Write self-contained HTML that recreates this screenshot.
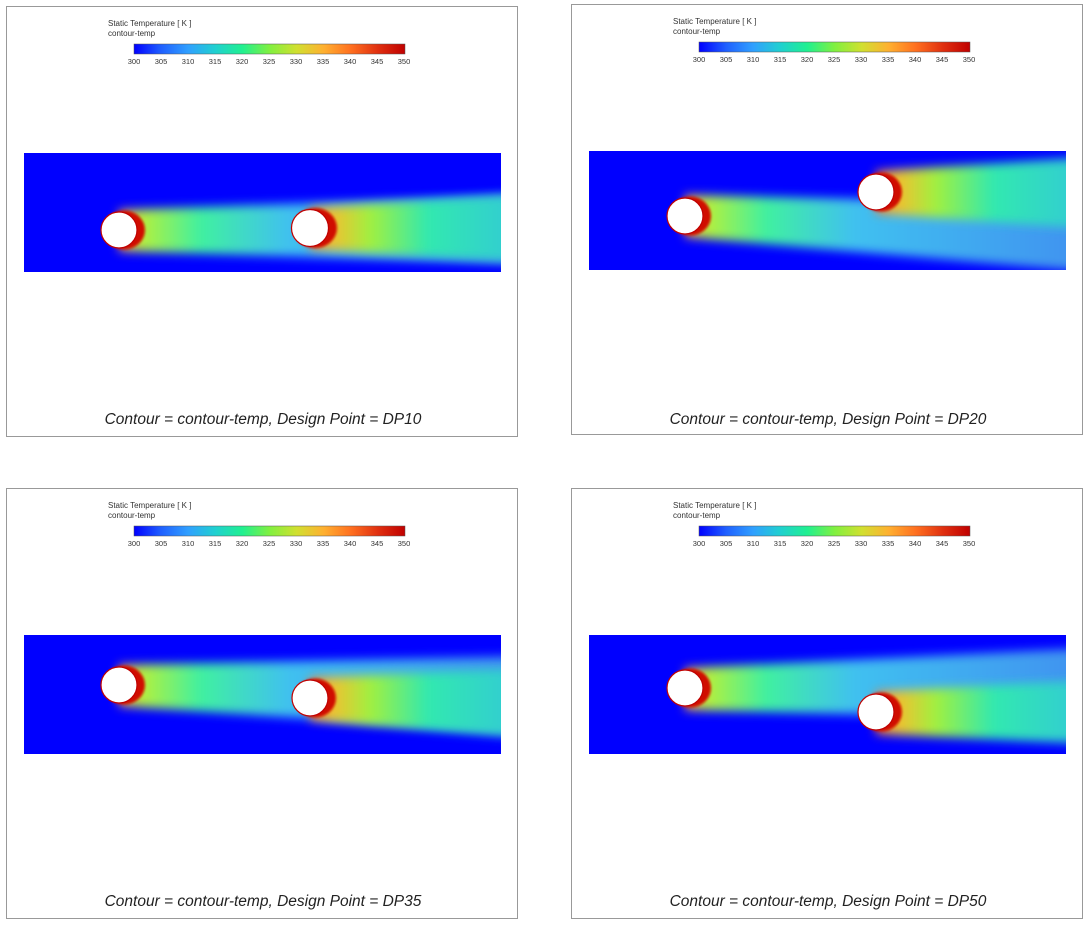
<!DOCTYPE html>
<html><head><meta charset="utf-8"><style>
html,body{margin:0;padding:0;background:#fff;width:1088px;height:928px;overflow:hidden}
svg{display:block}
text{font-family:"Liberation Sans",sans-serif}
</style></head><body>
<svg width="1088" height="928" viewBox="0 0 1088 928" xmlns="http://www.w3.org/2000/svg">
<defs>
<linearGradient id="jet" x1="0" x2="1" y1="0" y2="0">
<stop offset="0" stop-color="#0000ff"/><stop offset="0.1" stop-color="#2060ff"/><stop offset="0.2" stop-color="#30a0ff"/><stop offset="0.3" stop-color="#20d0d0"/><stop offset="0.4" stop-color="#20f090"/><stop offset="0.5" stop-color="#80f040"/><stop offset="0.6" stop-color="#d0e030"/><stop offset="0.7" stop-color="#ffb030"/><stop offset="0.8" stop-color="#ff7020"/><stop offset="0.9" stop-color="#e03010"/><stop offset="1" stop-color="#c00000"/>
</linearGradient>
<linearGradient id="w1" x1="0" x2="1" y1="0" y2="0">
<stop offset="0" stop-color="#ffa030"/><stop offset="0.06" stop-color="#b0f040"/><stop offset="0.2" stop-color="#40f0a0"/><stop offset="0.42" stop-color="#40c0f0"/><stop offset="1" stop-color="#4090f0"/>
</linearGradient>
<linearGradient id="w2" x1="0" x2="1" y1="0" y2="0">
<stop offset="0" stop-color="#ff7020"/><stop offset="0.1" stop-color="#f0c030"/><stop offset="0.28" stop-color="#a0f040"/><stop offset="0.55" stop-color="#30e8b0"/><stop offset="1" stop-color="#30c8d8"/>
</linearGradient>
<filter id="b" x="-20%" y="-50%" width="140%" height="200%"><feGaussianBlur stdDeviation="5"/></filter>
<filter id="b2" x="-50%" y="-50%" width="200%" height="200%"><feGaussianBlur stdDeviation="1.3"/></filter>
<clipPath id="dom"><rect x="18" y="147" width="477" height="119"/></clipPath>
<g id="hdr">
<rect x="0.5" y="0.5" width="511" height="430" fill="#fff" stroke="#999"/>
<text x="102" y="20" font-size="8" fill="#333">Static Temperature [ K ]</text>
<text x="102" y="30" font-size="8" fill="#333">contour-temp</text>
<rect x="128" y="38" width="271" height="10" fill="url(#jet)" stroke="#555" stroke-width="0.5"/>
<g font-size="7.5" fill="#333" text-anchor="middle">
<text x="128" y="58">300</text><text x="155" y="58">305</text><text x="182" y="58">310</text><text x="209" y="58">315</text><text x="236" y="58">320</text><text x="263" y="58">325</text><text x="290" y="58">330</text><text x="317" y="58">335</text><text x="344" y="58">340</text><text x="371" y="58">345</text><text x="398" y="58">350</text></g>
<rect x="18" y="147" width="477" height="119" fill="#0000ff"/>
</g>
</defs>

<!-- TL -->
<g transform="translate(6,6)">
<use href="#hdr"/>
<g clip-path="url(#dom)">
<path d="M113,204 L520,189 L520,258 L113,245 Z" fill="url(#w1)" filter="url(#b)"/>
<path d="M304,202 L520,188 L520,256 L304,243 Z" fill="url(#w2)" filter="url(#b)"/>
<ellipse cx="118" cy="224" rx="21" ry="19.5" fill="#d01000" filter="url(#b2)"/>
<ellipse cx="309" cy="222" rx="22" ry="20" fill="#d01000" filter="url(#b2)"/>
<circle cx="113" cy="224" r="18" fill="#fff" stroke="#c00000" stroke-width="1.2"/>
<circle cx="304" cy="222" r="18.5" fill="#fff" stroke="#c00000" stroke-width="1.2"/>
</g>
<text x="257" y="418" font-size="15.5" font-style="italic" text-anchor="middle" fill="#222">Contour = contour-temp, Design Point = DP10</text>
</g>

<!-- TR -->
<g transform="translate(571,4)">
<use href="#hdr"/>
<g clip-path="url(#dom)">
<path d="M114,191 L520,200 L520,268 L114,233 Z" fill="url(#w1)" filter="url(#b)"/>
<path d="M305,167 L520,153 L520,225 L305,209 Z" fill="url(#w2)" filter="url(#b)"/>
<ellipse cx="119" cy="212" rx="21" ry="19.5" fill="#d01000" filter="url(#b2)"/>
<ellipse cx="310" cy="188" rx="21" ry="19.5" fill="#d01000" filter="url(#b2)"/>
<circle cx="114" cy="212" r="18" fill="#fff" stroke="#c00000" stroke-width="1.2"/>
<circle cx="305" cy="188" r="18" fill="#fff" stroke="#c00000" stroke-width="1.2"/>
</g>
<text x="257" y="420" font-size="15.5" font-style="italic" text-anchor="middle" fill="#222">Contour = contour-temp, Design Point = DP20</text>
</g>

<!-- BL -->
<g transform="translate(6,488)">
<use href="#hdr"/>
<g clip-path="url(#dom)">
<path d="M113,177 L520,168 L520,245 L113,218 Z" fill="url(#w1)" filter="url(#b)"/>
<path d="M304,190 L520,180 L520,250 L304,232 Z" fill="url(#w2)" filter="url(#b)"/>
<ellipse cx="118" cy="197" rx="21" ry="19.5" fill="#d01000" filter="url(#b2)"/>
<ellipse cx="309" cy="210" rx="21" ry="19.5" fill="#d01000" filter="url(#b2)"/>
<circle cx="113" cy="197" r="18" fill="#fff" stroke="#c00000" stroke-width="1.2"/>
<circle cx="304" cy="210" r="18" fill="#fff" stroke="#c00000" stroke-width="1.2"/>
</g>
<text x="257" y="418" font-size="15.5" font-style="italic" text-anchor="middle" fill="#222">Contour = contour-temp, Design Point = DP35</text>
</g>

<!-- BR -->
<g transform="translate(571,488)">
<use href="#hdr"/>
<g clip-path="url(#dom)">
<path d="M114,180 L520,160 L520,232 L114,222 Z" fill="url(#w1)" filter="url(#b)"/>
<path d="M305,204 L520,192 L520,256 L305,246 Z" fill="url(#w2)" filter="url(#b)"/>
<ellipse cx="119" cy="200" rx="21" ry="19.5" fill="#d01000" filter="url(#b2)"/>
<ellipse cx="310" cy="224" rx="21" ry="19.5" fill="#d01000" filter="url(#b2)"/>
<circle cx="114" cy="200" r="18" fill="#fff" stroke="#c00000" stroke-width="1.2"/>
<circle cx="305" cy="224" r="18" fill="#fff" stroke="#c00000" stroke-width="1.2"/>
</g>
<text x="257" y="418" font-size="15.5" font-style="italic" text-anchor="middle" fill="#222">Contour = contour-temp, Design Point = DP50</text>
</g>
</svg>
</body></html>
